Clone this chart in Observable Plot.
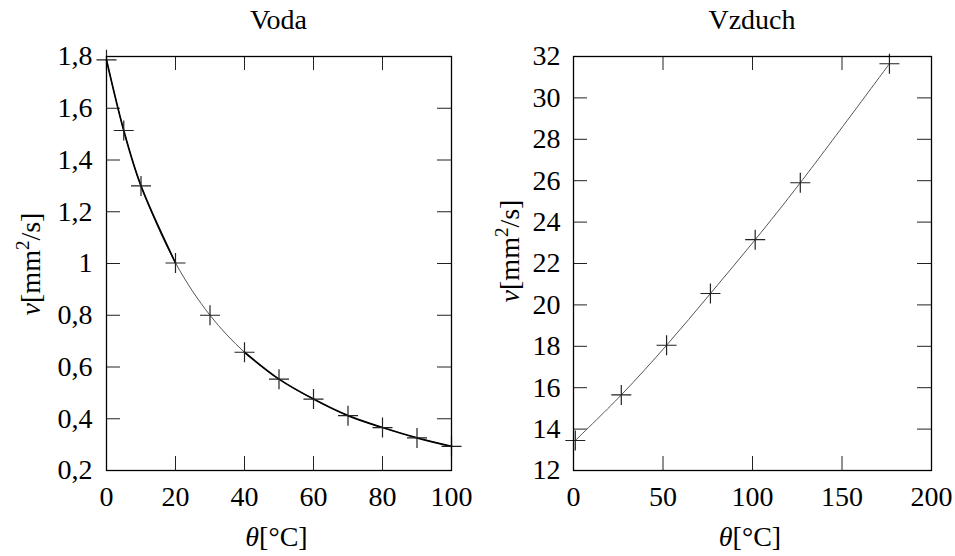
<!DOCTYPE html>
<html><head><meta charset="utf-8">
<script src="https://cdn.jsdelivr.net/npm/d3@7"></script>
<script src="https://cdn.jsdelivr.net/npm/@observablehq/plot@0.6"></script>
<style>
body{margin:0;background:#fff;}
#wrap{position:relative;width:955px;height:556px;display:flex;}
svg{display:block;overflow:visible}
svg text{font-family:"Liberation Serif","DejaVu Serif",serif !important;}
</style></head><body><div id="wrap"></div>
<script>
// Data
const waterTemp = [0, 5, 10, 20, 30, 40, 50, 60, 70, 80, 90, 100];
const waterNu = [1.787, 1.514, 1.30, 1.002, 0.80, 0.657, 0.553, 0.476, 0.412, 0.366, 0.326, 0.293];
const airTemp = [1, 26.7, 52, 76.5, 101.5, 126.7, 176.5];
const airNu = [13.45, 15.65, 18.05, 20.55, 23.15, 25.9, 31.65];

const waterXTicks = [0, 20, 40, 60, 80, 100];
const waterYTicks = [0.2, 0.4, 0.6, 0.8, 1, 1.2, 1.4, 1.6, 1.8];
const airXTicks = [0, 50, 100, 150, 200];
const airYTicks = [12, 14, 16, 18, 20, 22, 24, 26, 28, 30, 32];

const titles = ["Voda", "Vzduch"];

const FONT = "Liberation Serif, DejaVu Serif, serif";
const FS = 28;
const fmt = d => String(d).replace(".", ",");

const cross = {
  draw(ctx, size) {
    const r = Math.sqrt(size / Math.PI);
    ctx.moveTo(-r, 0); ctx.lineTo(r, 0);
    ctx.moveTo(0, -r); ctx.lineTo(0, r);
  }
};

function panel({width, ml, mr, xDomain, yDomain, xTicks, yTicks, data, lines, title, xPad, yPad, yLabelX, yLabelY}) {
  const mt = 56, mb = 86, height = 556;
  const fh = height - mt - mb;
  const fw = width - ml - mr;
  const TL = 14;
  const svg = Plot.plot({
    width, height,
    marginLeft: ml, marginRight: mr, marginTop: mt, marginBottom: mb,
    style: {fontFamily: FONT, fontSize: FS + "px", color: "#000", background: "#fff"},
    x: {domain: xDomain, nice: false},
    y: {domain: yDomain, nice: false},
    marks: [
      Plot.axisX(xTicks, {tickSize: 0, tickPadding: xPad, tickFormat: fmt, label: null, fontSize: FS}),
      Plot.axisY(yTicks, {tickSize: 0, tickPadding: yPad, tickFormat: fmt, label: null, fontSize: FS}),
      Plot.tickX(xTicks, {x: d => d, insetTop: fh - TL, stroke: "#222", strokeWidth: 1}),
      Plot.tickX(xTicks, {x: d => d, insetBottom: fh - TL, stroke: "#222", strokeWidth: 1}),
      Plot.tickY(yTicks, {y: d => d, insetRight: fw - TL, stroke: "#222", strokeWidth: 1}),
      Plot.tickY(yTicks, {y: d => d, insetLeft: fw - TL, stroke: "#222", strokeWidth: 1}),
      ...lines,
      Plot.dot(data, {x: "t", y: "nu", symbol: cross, r: 10, stroke: "#222", strokeWidth: 1.2, fill: "none"}),
      Plot.frame({stroke: "#000", strokeWidth: 1.3})
    ]
  });
  const s = d3.select(svg);
  const cx = ml + fw / 2;
  s.append("text").attr("x", cx).attr("y", 29).attr("text-anchor", "middle")
    .attr("font-family", FONT).attr("font-size", FS).attr("fill", "#000").text(title);
  const xl = s.append("text").attr("x", cx - 2).attr("y", 546).attr("text-anchor", "middle")
    .attr("font-family", FONT).attr("font-size", FS).attr("fill", "#000");
  xl.append("tspan").attr("font-style", "italic").text("θ");
  xl.append("tspan").text("[°C]");
  const yl = s.append("text").attr("transform", `translate(${yLabelX},${yLabelY}) rotate(-90)`)
    .attr("text-anchor", "middle").attr("font-family", FONT).attr("font-size", FS).attr("fill", "#000");
  yl.append("tspan").attr("font-style", "italic").text("ν");
  yl.append("tspan").text("[mm");
  yl.append("tspan").attr("dy", -11).attr("font-size", 19).text("2");
  yl.append("tspan").attr("dy", 11).text("/s]");
  return svg;
}

const water = waterTemp.map((t, i) => ({t, nu: waterNu[i]}));
const air = airTemp.map((t, i) => ({t, nu: airNu[i]}));

const left = panel({
  width: 478, ml: 106, mr: 27,
  xDomain: [0, 100], yDomain: [0.2, 1.8],
  xTicks: waterXTicks, yTicks: waterYTicks, data: water,
  lines: [
    Plot.line(water, {x: "t", y: "nu", curve: "catmull-rom", stroke: "#555", strokeWidth: 1}),
    Plot.line(water.filter(d => d.t <= 20), {x: "t", y: "nu", curve: "catmull-rom", stroke: "#000", strokeWidth: 1.7}),
    Plot.line(water.filter(d => d.t >= 40), {x: "t", y: "nu", curve: "catmull-rom", stroke: "#000", strokeWidth: 1.7})
  ],
  title: titles[0], xPad: 16, yPad: 14, yLabelX: 40, yLabelY: 264
});
const right = panel({
  width: 477, ml: 95, mr: 24,
  xDomain: [0, 200], yDomain: [12, 32],
  xTicks: airXTicks, yTicks: airYTicks, data: air,
  lines: [
    Plot.line(air, {x: "t", y: "nu", curve: "catmull-rom", stroke: "#555", strokeWidth: 1})
  ],
  title: titles[1], xPad: 16, yPad: 13, yLabelX: 41, yLabelY: 251
});
document.getElementById("wrap").append(left, right);
</script>
</body></html>
